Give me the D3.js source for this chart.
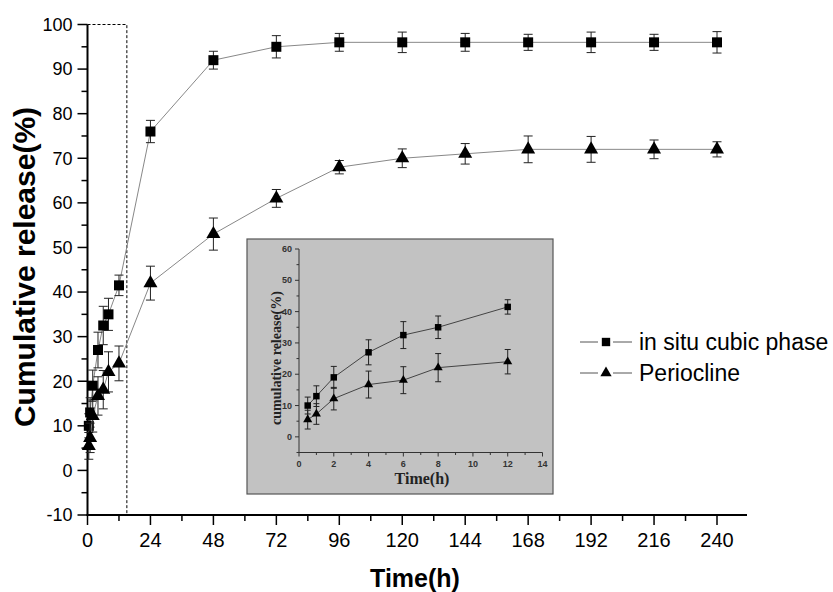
<!DOCTYPE html>
<html>
<head>
<meta charset="utf-8">
<script src="https://cdn.jsdelivr.net/npm/d3@7"></script>
<style>
  body { margin: 0; background: #fff; }
  svg { display: block; }
</style>
</head>
<body>
<svg id="chart" width="833" height="592"></svg>
<script>
// --- Data ---
const timeH = [0.5, 1, 2, 4, 6, 8, 12, 24, 48, 72, 96, 120, 144, 168, 192, 216, 240];
const cubicMean = [10, 13, 19, 27, 32.5, 35, 41.5, 76, 92, 95, 96, 96, 96, 96, 96, 96, 96];
const cubicSd = [2.7, 3.3, 3.5, 4, 4.3, 3.6, 2.3, 2.5, 2, 2.5, 2, 2.3, 2, 1.8, 2.3, 1.8, 2.4];
const perioMean = [5.5, 7.3, 12.2, 16.7, 18.1, 22.1, 24, 42, 53, 61, 68, 70, 71, 72, 72, 72, 72];
const perioSd = [3, 3.3, 3.6, 4.3, 4.3, 4.5, 3.9, 3.8, 3.6, 2, 1.5, 2.1, 2.3, 3, 2.9, 2.1, 1.7];
const seriesNames = ["in situ cubic phase", "Periocline"];
const xTicks = d3.range(0, 241, 24);
const yTicks = d3.range(-10, 101, 10);
const insetXTicks = d3.range(0, 15, 2);
const insetYTicks = d3.range(0, 61, 10);

const svg = d3.select("#chart");

const series = [
  { name: seriesNames[0], shape: d3.symbolSquare, pts: timeH.map((t, i) => ({ t, v: cubicMean[i], e: cubicSd[i] })) },
  { name: seriesNames[1], shape: d3.symbolTriangle, pts: timeH.map((t, i) => ({ t, v: perioMean[i], e: perioSd[i] })) }
];

// --- Main scales ---
const x = d3.scaleLinear().domain([0, 240]).range([87.5, 717]);
const y = d3.scaleLinear().domain([-10, 100]).range([515, 24.5]);

// dashed zoom box (0-15 h)
svg.append("rect")
  .attr("x", x(0)).attr("y", y(100))
  .attr("width", x(15) - x(0)).attr("height", y(-10) - y(100))
  .attr("fill", "none").attr("stroke", "#000")
  .attr("stroke-width", 1).attr("stroke-dasharray", "3,2");

// axes
const gx = svg.append("g").attr("transform", `translate(0,${y(-10)})`);
gx.append("line").attr("x1", x(0) - 1).attr("x2", 747).attr("stroke", "#000").attr("stroke-width", 2);
gx.selectAll(".minor").data(d3.range(12, 250, 24)).join("line")
  .attr("x1", d => x(d)).attr("x2", d => x(d)).attr("y1", 0).attr("y2", 6)
  .attr("stroke", "#000").attr("stroke-width", 1.5);
gx.selectAll(".major").data(xTicks).join("line")
  .attr("x1", d => x(d)).attr("x2", d => x(d)).attr("y1", 0).attr("y2", 10)
  .attr("stroke", "#000").attr("stroke-width", 1.5);
gx.selectAll("text").data(xTicks).join("text")
  .attr("x", d => x(d)).attr("y", 32)
  .attr("text-anchor", "middle")
  .style("font-family", "'Liberation Sans Narrow', 'Liberation Sans', Arial, sans-serif")
  .style("font-size", "20px")
  .text(d => d);

const gy = svg.append("g").attr("transform", `translate(${x(0)},0)`);
gy.append("line").attr("y1", y(-10) + 1).attr("y2", y(100)).attr("stroke", "#000").attr("stroke-width", 2);
gy.selectAll(".minor").data(d3.range(-5, 100, 10)).join("line")
  .attr("y1", d => y(d)).attr("y2", d => y(d)).attr("x1", 0).attr("x2", -6)
  .attr("stroke", "#000").attr("stroke-width", 1.5);
gy.selectAll(".major").data(yTicks).join("line")
  .attr("y1", d => y(d)).attr("y2", d => y(d)).attr("x1", 0).attr("x2", -10)
  .attr("stroke", "#000").attr("stroke-width", 1.5);
gy.selectAll("text").data(yTicks).join("text")
  .attr("x", -15).attr("y", d => y(d)).attr("dy", "0.35em")
  .attr("text-anchor", "end")
  .style("font-family", "'Liberation Sans', Arial, sans-serif")
  .style("font-size", "18px")
  .text(d => d);

// axis titles
svg.append("text")
  .attr("x", 415).attr("y", 587).attr("text-anchor", "middle")
  .style("font-family", "'Liberation Sans Narrow', 'Liberation Sans', Arial, sans-serif")
  .style("font-size", "25px").style("font-weight", "bold")
  .text("Time(h)");
svg.append("text")
  .attr("transform", `translate(35,267) rotate(-90)`)
  .attr("text-anchor", "middle")
  .style("font-family", "'Liberation Sans', Arial, sans-serif")
  .style("font-size", "30px").style("font-weight", "bold")
  .text("Cumulative release(%)");

// series
const line = (sx, sy) => d3.line().x(d => sx(d.t)).y(d => sy(d.v));

function drawSeries(g, sx, sy, pts, shape, size, cap, lineColor) {
  g.append("path").datum(pts)
    .attr("d", line(sx, sy))
    .attr("fill", "none").attr("stroke", lineColor).attr("stroke-width", 1);
  const eb = g.append("g").attr("stroke", "#222").attr("stroke-width", 1);
  pts.forEach(d => {
    eb.append("line").attr("x1", sx(d.t)).attr("x2", sx(d.t)).attr("y1", sy(d.v + d.e)).attr("y2", sy(d.v - d.e));
    eb.append("line").attr("x1", sx(d.t) - cap).attr("x2", sx(d.t) + cap).attr("y1", sy(d.v + d.e)).attr("y2", sy(d.v + d.e));
    eb.append("line").attr("x1", sx(d.t) - cap).attr("x2", sx(d.t) + cap).attr("y1", sy(d.v - d.e)).attr("y2", sy(d.v - d.e));
  });
  g.append("g").selectAll("path").data(pts).join("path")
    .attr("transform", d => `translate(${sx(d.t)},${sy(d.v)})`)
    .attr("d", d3.symbol().type(shape).size(size))
    .attr("fill", "#000");
}

drawSeries(svg.append("g"), x, y, series[0].pts, series[0].shape, 100, 4.5, "#888");
drawSeries(svg.append("g"), x, y, series[1].pts, series[1].shape, 85, 4.5, "#888");

// legend
const legend = svg.append("g").attr("transform", "translate(580,342)");
series.forEach((s, i) => {
  const row = legend.append("g").attr("transform", `translate(0,${i * 31})`);
  row.append("line").attr("x1", 0).attr("x2", 18).attr("stroke", "#555");
  row.append("line").attr("x1", 33).attr("x2", 52).attr("stroke", "#555");
  row.append("path").attr("transform", "translate(26,0)")
    .attr("d", d3.symbol().type(s.shape).size(i === 0 ? 70 : 55)).attr("fill", "#000");
  row.append("text").attr("x", 59).attr("dy", "0.35em")
    .style("font-family", "'Liberation Sans', Arial, sans-serif")
    .style("font-size", "23px")
    .text(s.name);
});

// --- Inset ---
const inset = svg.append("g");
inset.append("rect")
  .attr("x", 247).attr("y", 239).attr("width", 306).attr("height", 255)
  .attr("fill", "#c2c2c2").attr("stroke", "#555").attr("stroke-width", 1.2);

const xi = d3.scaleLinear().domain([0, 14]).range([299, 542.5]);
const yi = d3.scaleLinear().domain([-5, 60]).range([452.5, 249]);
const serif = "'Liberation Serif', 'Times New Roman', serif";

const gxi = inset.append("g").attr("transform", `translate(0,${yi(-5)})`).attr("stroke", "#333");
gxi.append("line").attr("x1", xi(0)).attr("x2", xi(14));
gxi.selectAll(".mi").data(d3.range(1, 14, 2)).join("line")
  .attr("x1", d => xi(d)).attr("x2", d => xi(d)).attr("y2", 2.5);
gxi.selectAll(".ma").data(insetXTicks).join("line")
  .attr("x1", d => xi(d)).attr("x2", d => xi(d)).attr("y2", 4);
gxi.selectAll("text").data(insetXTicks).join("text")
  .attr("x", d => xi(d)).attr("y", 14).attr("text-anchor", "middle")
  .attr("stroke", "none").attr("fill", "#333")
  .style("font-family", "'Liberation Sans', Arial, sans-serif").style("font-size", "9px").style("font-weight", "bold")
  .text(d => d);

const gyi = inset.append("g").attr("transform", `translate(${xi(0)},0)`).attr("stroke", "#333");
gyi.append("line").attr("y1", yi(-5)).attr("y2", yi(60));
gyi.selectAll(".mi").data(d3.range(-5, 60, 10)).join("line")
  .attr("y1", d => yi(d)).attr("y2", d => yi(d)).attr("x2", -2.5);
gyi.selectAll(".ma").data(insetYTicks).join("line")
  .attr("y1", d => yi(d)).attr("y2", d => yi(d)).attr("x2", -4);
gyi.selectAll("text").data(insetYTicks).join("text")
  .attr("x", -7).attr("y", d => yi(d)).attr("dy", "0.35em").attr("text-anchor", "end")
  .attr("stroke", "none").attr("fill", "#333")
  .style("font-family", "'Liberation Sans', Arial, sans-serif").style("font-size", "9px").style("font-weight", "bold")
  .text(d => d);

inset.append("text")
  .attr("x", 422).attr("y", 484).attr("text-anchor", "middle")
  .style("font-family", serif).style("font-size", "16px").style("font-weight", "bold")
  .attr("fill", "#222").text("Time(h)");
inset.append("text")
  .attr("transform", "translate(281,358) rotate(-90)").attr("text-anchor", "middle")
  .style("font-family", serif).style("font-size", "14px").style("font-weight", "bold")
  .attr("fill", "#222").text("cumulative release(%)");

const earlyIdx = timeH.map((t, i) => i).filter(i => timeH[i] <= 12);
drawSeries(inset.append("g"), xi, yi, earlyIdx.map(i => series[0].pts[i]), d3.symbolSquare, 42, 3, "#444");
drawSeries(inset.append("g"), xi, yi, earlyIdx.map(i => series[1].pts[i]), d3.symbolTriangle, 36, 3, "#444");
</script>
</body>
</html>
